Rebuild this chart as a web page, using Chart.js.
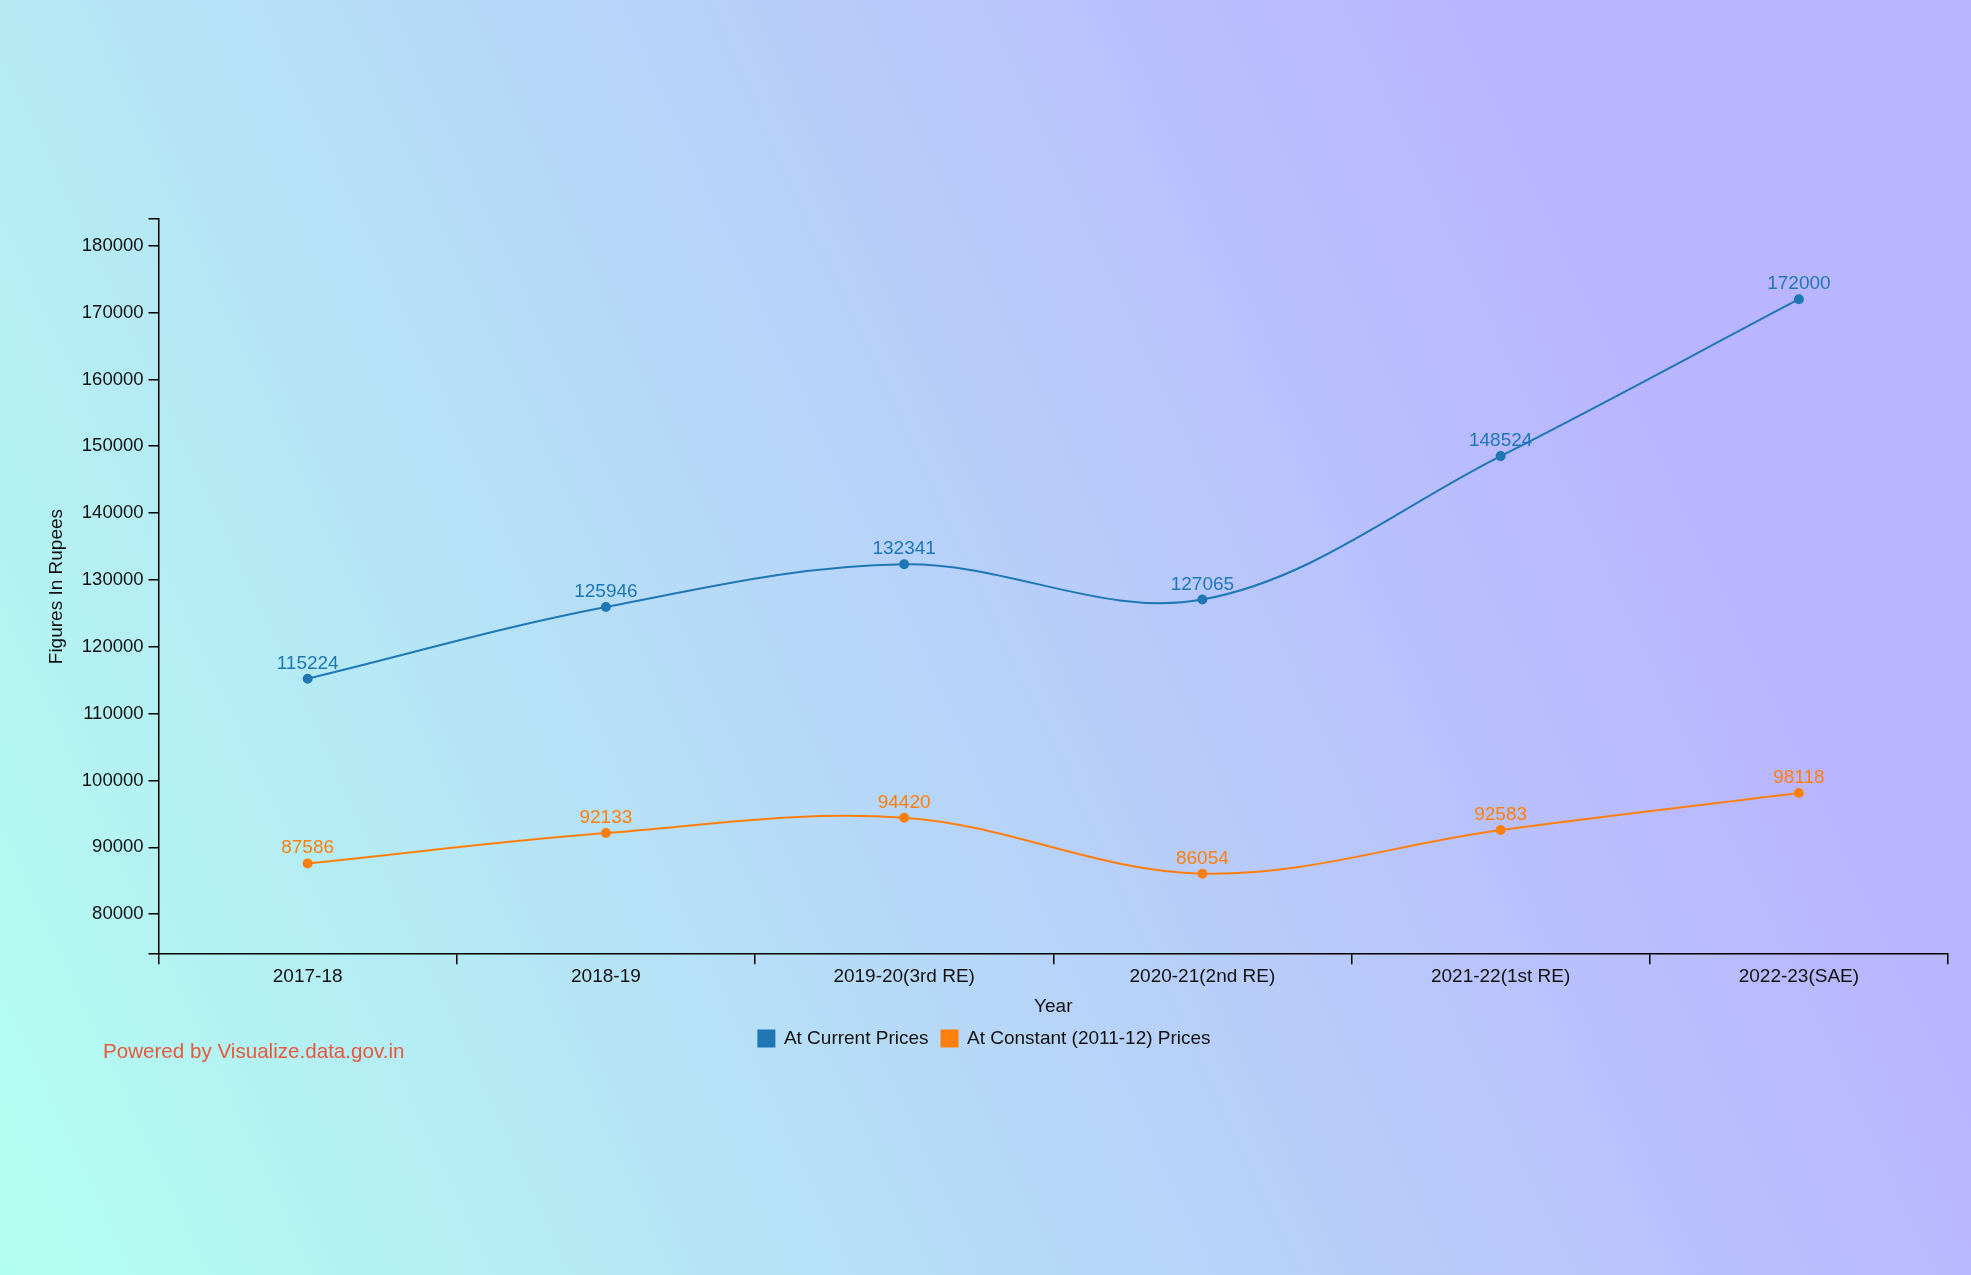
<!DOCTYPE html>
<html>
<head>
<meta charset="utf-8">
<title>Per Capita Net National Income</title>
<script src="https://cdn.jsdelivr.net/npm/chart.js@4/dist/chart.umd.min.js"></script>
<style>
  html, body { margin: 0; padding: 0; }
  body {
    width: 1971px;
    height: 1275px;
    background: linear-gradient(65deg, #b3fff0 0%, #bab5ff 80%, #bab5ff 100%);
    overflow: hidden;
  }
  #wrap { position: relative; width: 1971px; height: 1275px; }
</style>
</head>
<body>
<div id="wrap"><canvas id="grafico"></canvas></div>
<script>
// datos
const years = ["2017-18", "2018-19", "2019-20(3rd RE)", "2020-21(2nd RE)", "2021-22(1st RE)", "2022-23(SAE)"];
const currentPrices = [115224, 125946, 132341, 127065, 148524, 172000];
const constantPrices = [87586, 92133, 94420, 86054, 92583, 98118];
const yTickValues = [80000, 90000, 100000, 110000, 120000, 130000, 140000, 150000, 160000, 170000, 180000];
const yMin = 74000;
const yMax = 184000;

const fuente = '"Liberation Sans", Arial, Helvetica, sans-serif';
Chart.defaults.font.family = fuente;
Chart.defaults.color = "#000";

// etiquetas de valores encima de cada punto
const etiquetasValores = {
  id: "etiquetasValores",
  afterDatasetsDraw(chart) {
    const ctx = chart.ctx;
    chart.data.datasets.forEach((ds, i) => {
      chart.getDatasetMeta(i).data.forEach((pt, j) => {
        ctx.save();
        ctx.font = "19px " + fuente;
        ctx.fillStyle = ds.borderColor;
        ctx.textAlign = "center";
        ctx.textBaseline = "alphabetic";
        ctx.fillText(String(ds.data[j]), pt.x, pt.y - 10);
        ctx.restore();
      });
    });
  }
};

// la leyenda va un poco a la izquierda del centro
const moverLeyenda = {
  id: "moverLeyenda",
  afterLayout(chart) {
    const l = chart.legend;
    if (!l) return;
    l.left -= 12;
    l.right -= 12;
  }
};

// texto "Powered by"
const creditos = {
  id: "creditos",
  afterDraw(chart) {
    const ctx = chart.ctx;
    ctx.save();
    ctx.font = "20.6px " + fuente;
    ctx.fillStyle = "#e8583c";
    ctx.textAlign = "left";
    ctx.textBaseline = "middle";
    ctx.fillText("Powered by Visualize.data.gov.in", 103, 1052);
    ctx.restore();
  }
};

const ctx = document.getElementById("grafico").getContext("2d");
new Chart(ctx, {
  type: "line",
  data: {
    labels: years,
    datasets: [
      {
        label: "At Current Prices",
        data: currentPrices,
        borderColor: "#1f77b4",
        backgroundColor: "#1f77b4",
        borderWidth: 2,
        pointRadius: 4,
        pointHoverRadius: 4,
        tension: 0.35,
        fill: false
      },
      {
        label: "At Constant (2011-12) Prices",
        data: constantPrices,
        borderColor: "#ff7f0e",
        backgroundColor: "#ff7f0e",
        borderWidth: 2,
        pointRadius: 4,
        pointHoverRadius: 4,
        tension: 0.35,
        fill: false
      }
    ]
  },
  options: {
    responsive: true,
    maintainAspectRatio: false,
    animation: false,
    layout: {
      padding: { left: 45, right: 23, top: 219, bottom: 217 }
    },
    plugins: {
      legend: {
        position: "bottom",
        labels: {
          boxWidth: 16,
          boxHeight: 16,
          padding: 13,
          color: "#111",
          font: { size: 19 }
        }
      },
      tooltip: { enabled: false }
    },
    scales: {
      x: {
        type: "category",
        offset: true,
        grid: {
          offset: true,
          drawOnChartArea: false,
          drawTicks: true,
          tickLength: 10,
          color: "#000",
          lineWidth: 1.5
        },
        border: { color: "#000", width: 1.5 },
        ticks: { padding: 1, color: "#111", font: { size: 19 }, maxRotation: 0 },
        title: {
          display: true,
          text: "Year",
          color: "#111",
          font: { size: 19, lineHeight: 1 },
          padding: { top: 8, bottom: 0 }
        }
      },
      y: {
        min: yMin,
        max: yMax,
        afterBuildTicks(scale) {
          scale.ticks = [yMin].concat(yTickValues, [yMax]).map(v => ({ value: v }));
        },
        grid: {
          drawOnChartArea: false,
          drawTicks: true,
          tickLength: 10,
          color: "#000",
          lineWidth: 1.5
        },
        border: { color: "#000", width: 1.5 },
        ticks: {
          padding: 5,
          color: "#111",
          font: { size: 18.5 },
          callback: v => (yTickValues.includes(v) ? String(v) : "")
        },
        title: {
          display: true,
          text: "Figures In Rupees",
          color: "#111",
          font: { size: 19 },
          padding: { top: 0, bottom: 9 }
        }
      }
    }
  },
  plugins: [etiquetasValores, moverLeyenda, creditos]
});
</script>
</body>
</html>
